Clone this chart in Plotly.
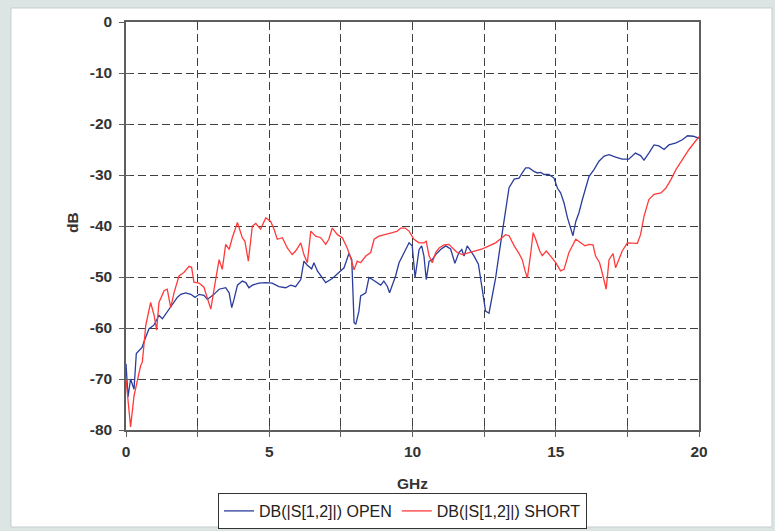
import plotly.graph_objects as go

# OPEN trace (blue)
open_ghz = [0.0, 0.07, 0.16, 0.28, 0.36, 0.56, 0.64, 0.8, 0.98, 1.15, 1.27, 1.44, 1.62, 1.79, 1.91,
            2.08, 2.26, 2.41, 2.55, 2.72, 2.84, 3.07, 3.25, 3.48, 3.6, 3.69, 3.77, 3.89, 4.06, 4.18,
            4.29, 4.41, 4.64, 4.88, 5.1, 5.34, 5.57, 5.75, 5.92, 6.1, 6.21, 6.33, 6.48, 6.56, 6.68,
            6.85, 6.97, 7.2, 7.43, 7.61, 7.78, 7.88, 7.96, 8.02, 8.13, 8.19, 8.37, 8.48, 8.6, 8.77,
            8.89, 9.0, 9.12, 9.2, 9.32, 9.41, 9.53, 9.7, 9.88, 9.99, 10.09, 10.23, 10.32, 10.4,
            10.48, 10.58, 10.69, 10.81, 10.98, 11.16, 11.33, 11.48, 11.62, 11.72, 11.8, 11.91,
            12.03, 12.15, 12.3, 12.44, 12.55, 12.67, 12.79, 12.9, 13.02, 13.13, 13.25, 13.37,
            13.55, 13.72, 13.83, 13.95, 14.07, 14.24, 14.36, 14.48, 14.59, 14.76, 14.94, 15.06,
            15.17, 15.29, 15.41, 15.53, 15.6, 15.7, 15.81, 15.93, 16.05, 16.16, 16.34, 16.51,
            16.69, 16.86, 17.09, 17.32, 17.55, 17.78, 17.96, 18.08, 18.25, 18.43, 18.6, 18.78,
            18.95, 19.2, 19.42, 19.6, 19.8, 20.0]
open_db = [-67, -73.5, -70, -72, -65, -63.8, -62.5, -60.2, -59.4, -57.5, -58.2, -56.8, -55.4, -54, -53.4,
           -53.1, -53.4, -54, -53.4, -53.6, -54.4, -53.4, -52.4, -52.1, -53.1, -56, -54.4, -51.6, -50.8, -51.1,
           -52.1, -51.6, -51.2, -51.1, -51.2, -51.9, -52.1, -51.6, -51.9, -50.5, -46.9, -47.7, -48.4, -47.2, -48.8,
           -50.1, -51.1, -50.3, -49.2, -48.2, -45.4, -46.6, -58.9, -59.3, -56.7, -53.7, -53.1, -50.1, -50.5, -51.1,
           -51.6, -50.8, -51.8, -53.1, -51.4, -49.8, -47.2, -45.2, -43.3, -43.9, -50.1, -44.6, -43.9, -45.9,
           -50.5, -46.9, -46.6, -45.6, -44.6, -43.9, -44.5, -47.3, -45.2, -44.6, -45.9, -43.9,
           -44.9, -45.9, -47.5, -53.1, -56.7, -57.1, -53.6, -50.2, -45.5, -41.5, -36.5, -32.5,
           -30.8, -30.6, -29.6, -28.6, -28.6, -29.3, -29.6, -29.5, -29.9, -29.9, -30.6, -32.6,
           -33.5, -35.5, -38.4, -40.7, -41.9, -39.1, -37.4, -34.8, -32.2, -30.3, -28.9, -27.3,
           -26.3, -26, -26.5, -26.9, -26.9, -25.7, -26.2, -27.1, -25.7, -24.1, -24.3, -25,
           -24.1, -23.7, -23.1, -22.3, -22.4, -22.8]

# SHORT trace (red)
short_ghz = [0.0, 0.16, 0.28, 0.4, 0.51, 0.57, 0.64, 0.69, 0.86, 0.98, 1.07, 1.15, 1.33, 1.44, 1.56,
             1.68, 1.85, 2.02, 2.2, 2.29, 2.37, 2.55, 2.72, 2.84, 2.96, 3.13, 3.25, 3.36, 3.48, 3.6,
             3.71, 3.89, 4.06, 4.15, 4.27, 4.41, 4.53, 4.7, 4.88, 5.05, 5.17, 5.28, 5.46, 5.63, 5.8,
             5.92, 6.1, 6.21, 6.33, 6.45, 6.62, 6.8, 6.97, 7.08, 7.2, 7.38, 7.55, 7.72, 7.84, 7.96,
             8.07, 8.19, 8.37, 8.54, 8.66, 8.83, 9.06, 9.3, 9.47, 9.59, 9.74, 9.88, 10.05, 10.23,
             10.4, 10.48, 10.58, 10.69, 10.81, 10.93, 11.1, 11.27, 11.45, 11.56, 11.74, 11.97,
             12.2, 12.44, 12.67, 12.9, 13.08, 13.25, 13.37, 13.55, 13.72, 13.83, 13.93, 14.01,
             14.13, 14.21, 14.3, 14.44, 14.53, 14.67, 14.82, 15.0, 15.17, 15.29, 15.46, 15.7,
             15.87, 16.02, 16.16, 16.3, 16.39, 16.53, 16.65, 16.76, 16.86, 17.0, 17.09, 17.21,
             17.32, 17.5, 17.67, 17.85, 17.96, 18.08, 18.25, 18.43, 18.67, 18.84, 19.02, 19.2,
             19.42, 19.65, 20.0]
short_db = [-70, -79.4, -73.3, -70, -67.4, -66.7, -62.8, -59.5, -55, -57.5, -60.4, -55, -52.7, -52.4, -56,
            -53, -49.8, -49.1, -47.9, -48.1, -51, -51.2, -52, -54, -56.3, -50.5, -46.6, -48.5, -43.6, -44.6,
            -42.3, -39.3, -42.3, -43, -46.9, -40, -39.5, -40.6, -38.4, -39.1, -40.7, -42.6, -42.3, -44.3, -45.6,
            -44.9, -43.3, -45.6, -47.2, -41, -42, -42.3, -43.6, -42.6, -40.4, -41.7, -42.3, -44.3, -46.2, -48.6,
            -46.9, -47.2, -45.9, -45.2, -42.6, -42, -41.7, -41.3, -41, -40.4, -40.4, -41, -42.6, -43.3,
            -43.3, -43, -45.9, -47.2, -45.2, -44.3, -43.7, -43.6, -44.6, -45.2, -45.6, -45.2,
            -44.9, -44.5, -43.9, -43.3, -42.5, -41.7, -41.9, -43.9, -45.4, -46.6, -48.8, -50.2,
            -45.2, -41.3, -42.6, -44.9, -45.8, -44.9, -45.9, -47.2, -48.8, -48.5, -45.2, -42.6,
            -43.3, -43.9, -43.6, -43.7, -45.9, -47.2, -49.8, -52.4, -46.6, -45.4, -48.2, -46.6,
            -44.9, -43.3, -43.4, -43.4, -41.7, -38.1, -34.8, -33.8, -33.5, -32.6, -30.9, -28.9,
            -27, -25, -22.5]

x_tickvals = [0, 2.5, 5, 7.5, 10, 12.5, 15, 17.5, 20]
x_ticktext = ["0", "", "5", "", "10", "", "15", "", "20"]
y_tickvals = [0, -10, -20, -30, -40, -50, -60, -70, -80]
y_ticktext = ["0", "-10", "-20", "-30", "-40", "-50", "-60", "-70", "-80"]

series_names = ["DB(|S[1,2]|) OPEN", "DB(|S[1,2]|) SHORT"]
BLUE = "#2a3d9c"
RED = "#ff3a3a"

FONT = "Liberation Sans, Arial, sans-serif"

fig = go.Figure()
fig.add_trace(go.Scatter(x=open_ghz, y=open_db, mode="lines", name=series_names[0],
                         line=dict(color=BLUE, width=1.3)))
fig.add_trace(go.Scatter(x=short_ghz, y=short_db, mode="lines", name=series_names[1],
                         line=dict(color=RED, width=1.3)))
# empty helper trace to activate overlay axes (inner half of crossing ticks)
fig.add_trace(go.Scatter(x=[], y=[], xaxis="x2", yaxis="y2", showlegend=False, hoverinfo="skip"))

tick_font = dict(family=FONT, size=15.5, color="#333333", weight="bold")
AX = "#5e5e5e"
GRID = "#3e3e3e"

fig.update_layout(
    width=775, height=531,
    margin=dict(l=126, r=76, t=22, b=101),
    paper_bgcolor="#dce4e4",
    plot_bgcolor="white",
    showlegend=True,
    legend=dict(orientation="h", xref="container", yref="container",
                x=218 / 775, y=(531 - 511) / 531, xanchor="left", yanchor="middle",
                bgcolor="white", bordercolor="#333333", borderwidth=1,
                font=dict(family=FONT, size=16, color="#222222"),
                itemwidth=30, tracegroupgap=0),
    xaxis=dict(range=[0, 20], tickmode="array", tickvals=x_tickvals, ticktext=x_ticktext,
               ticks="outside", ticklen=5, tickcolor=AX, tickwidth=1.3,
               showline=True, linecolor=AX, linewidth=1.5, mirror=True,
               showgrid=True, gridcolor=GRID, gridwidth=1.3, griddash="8px,4px",
               zeroline=False, tickfont=tick_font, ticklabelstandoff=2),
    yaxis=dict(range=[-80, 0], tickmode="array", tickvals=y_tickvals, ticktext=y_ticktext,
               ticks="outside", ticklen=5, tickcolor=AX, tickwidth=1.3,
               showline=True, linecolor=AX, linewidth=1.5, mirror=True,
               showgrid=True, gridcolor=GRID, gridwidth=1.3, griddash="8px,4px",
               zeroline=False, tickfont=tick_font, ticklabelstandoff=4),
    xaxis2=dict(overlaying="x", range=[0, 20], tickmode="array", tickvals=x_tickvals,
                ticks="inside", ticklen=4, tickcolor=AX, tickwidth=1.3,
                showticklabels=False, showgrid=False, showline=False, zeroline=False),
    yaxis2=dict(overlaying="y", range=[-80, 0], tickmode="array", tickvals=y_tickvals,
                ticks="inside", ticklen=4, tickcolor=AX, tickwidth=1.3,
                showticklabels=False, showgrid=False, showline=False, zeroline=False),
    shapes=[dict(type="rect", xref="paper", yref="paper", x0=-0.2007, x1=1.1274, y0=-0.2377, y1=1.0343,
                 fillcolor="white", line=dict(color="#c5cfcf", width=1), layer="below")],
    annotations=[
        dict(text="GHz", xref="paper", yref="paper", x=0.5, y=-0.13, showarrow=False,
             font=dict(family=FONT, size=15.5, color="#333333", weight="bold"),
             xanchor="center", yanchor="middle"),
        dict(text="dB", xref="paper", yref="paper", x=-0.0925, y=0.51, showarrow=False, textangle=-90,
             font=dict(family=FONT, size=15.5, color="#333333", weight="bold"),
             xanchor="center", yanchor="middle"),
    ],
)

fig.write_html("out.html", config={"responsive": False, "displayModeBar": False},
               post_script="document.body.style.margin='0';document.body.style.overflow='hidden';")
